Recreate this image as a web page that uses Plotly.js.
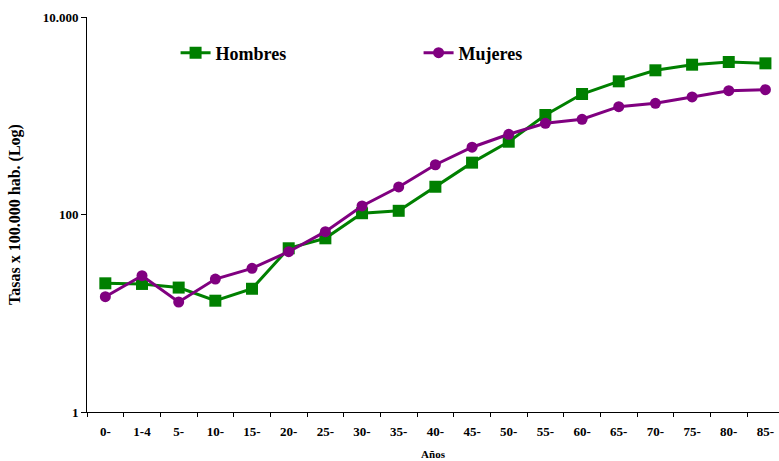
<!DOCTYPE html>
<html>
<head>
<meta charset="utf-8">
<script src="https://cdn.plot.ly/plotly-3.0.1.min.js"></script>
<style>
  html, body { margin: 0; padding: 0; background: #fff; }
  #chart { width: 779px; height: 461px; }
</style>
</head>
<body>
<div id="chart"></div>
<script>
// Age groups (years)
const grupos = ['0-', '1-4', '5-', '10-', '15-', '20-', '25-', '30-', '35-', '40-',
                '45-', '50-', '55-', '60-', '65-', '70-', '75-', '80-', '85-'];

// Rates per 100.000 inhabitants
const hombres = [20.1, 19.8, 18.2, 13.4, 17.7, 45.5, 57.4, 103, 109, 191,
                 335, 546, 1018, 1660, 2232, 2886, 3288, 3500, 3395];
const mujeres = [14.7, 24.0, 13.0, 22.2, 28.5, 42.0, 67.0, 122, 190, 319,
                 480, 649, 839, 921, 1236, 1337, 1549, 1795, 1836];

const yTickVals = [1, 100, 10000];
const yTickText = ['1', '100', '10.000'];

const serif = 'Liberation Serif, Times New Roman, serif';

const traces = [
  {
    x: grupos, y: hombres, name: 'Hombres', type: 'scatter', mode: 'lines+markers',
    line: { color: '#008000', width: 3 },
    marker: { symbol: 'square', size: 12, color: '#008000' }
  },
  {
    x: grupos, y: mujeres, name: 'Mujeres', type: 'scatter', mode: 'lines+markers',
    line: { color: '#800080', width: 3 },
    marker: { symbol: 'circle', size: 11, color: '#800080' }
  }
];

const layout = {
  width: 779, height: 461,
  margin: { l: 87, r: 0, t: 17, b: 49 },
  paper_bgcolor: '#ffffff', plot_bgcolor: '#ffffff',
  font: { family: serif, color: '#000' },
  showlegend: true,
  legend: {
    orientation: 'h', x: 0.128, xanchor: 'left', y: 0.909, yanchor: 'middle',
    bgcolor: 'rgba(0,0,0,0)', borderwidth: 0,
    font: { family: serif, size: 18, weight: 'bold', color: '#000' },
    entrywidth: 198, entrywidthmode: 'pixels'
  },
  xaxis: {
    type: 'category', range: [-0.5, 18.37],
    showline: true, linecolor: '#000', linewidth: 1,
    showgrid: false, zeroline: false,
    ticks: 'outside', tickson: 'boundaries', ticklen: 4, tickcolor: '#000',
    tickfont: { family: serif, size: 13, weight: 'bold' },
    ticklabelstandoff: 7,
    title: { text: 'Años', font: { family: serif, size: 11, weight: 'bold' }, standoff: 12 }
  },
  yaxis: {
    type: 'log', range: [0, 4],
    tickvals: yTickVals, ticktext: yTickText,
    showline: true, linecolor: '#000', linewidth: 1,
    showgrid: false, zeroline: false,
    ticks: 'outside', ticklen: 5, tickcolor: '#000',
    tickfont: { family: serif, size: 13, weight: 'bold' },
    title: { text: 'Tasas x 100.000 hab. (Log)', font: { family: serif, size: 16, weight: 'bold' }, standoff: 18 }
  }
};

Plotly.newPlot('chart', traces, layout, { displayModeBar: false, responsive: false });
</script>
</body>
</html>
